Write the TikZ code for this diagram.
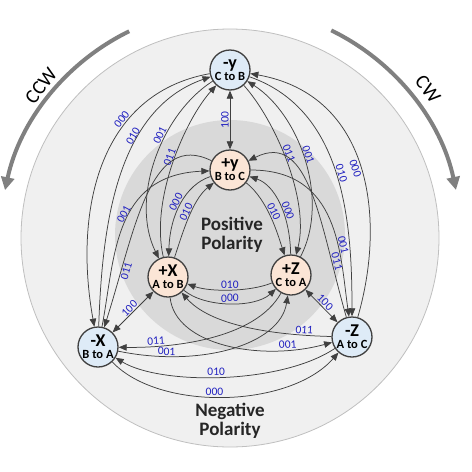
\documentclass[tikz,border=0pt]{standalone}
\usepackage{fontspec}
\setmainfont{Carlito}
\usetikzlibrary{arrows.meta}
\definecolor{negblue}{RGB}{222,235,247}
\definecolor{posorange}{RGB}{251,229,214}
\definecolor{edgegray}{RGB}{64,64,64}
\definecolor{codeblue}{RGB}{32,32,192}
\definecolor{ringgray}{RGB}{240,240,240}
\definecolor{coregray}{RGB}{217,217,217}
\definecolor{rimgray}{RGB}{191,191,191}
\definecolor{spingray}{RGB}{128,128,128}
\newcommand{\phasetext}[2]{\setlength{\lineskiplimit}{-100pt}{\fontsize{18}{12}\selectfont #1}\\#2}

\begin{document}
\begin{tikzpicture}[x=1pt, y=-1pt,
  negphase/.style={circle, draw=edgegray, line width=1.3pt, fill=negblue, minimum size=40pt,
    inner sep=0pt, align=center, font=\fontsize{12.5}{12}\selectfont\bfseries},
  posphase/.style={negphase, fill=posorange},
  trans/.style={draw=edgegray, line width=0.75pt, -{Triangle[length=8pt,width=6.5pt]}},
  swap100/.style={trans, {Triangle[length=8pt,width=6.5pt]}-{Triangle[length=8pt,width=6.5pt]}},
  codelbl/.style={font=\fontsize{11.5}{11.5}\selectfont, text=codeblue, sloped, inner sep=1pt},
  spin/.style={draw=spingray, line width=4pt, -{Triangle[length=13pt,width=13pt]}},
  polarity/.style={font=\fontsize{19}{19}\selectfont\bfseries, text=black!85, align=center}]
  \useasboundingbox (0,0) rectangle (472,472);

  % Polarity discs
  \filldraw[fill=ringgray, draw=rimgray, line width=0.8pt] (230,238) circle[radius=209];
  \fill[coregray] (230,235) circle[radius=115];

  % Rotation sense
  \draw[spin] ([shift={(-116:230)}]230,238) arc[start angle=-116, end angle=-168, radius=230];
  \draw[spin] ([shift={(-64:231)}]230,238) arc[start angle=-64, end angle=-12, radius=231];
  \node[rotate=52, font=\fontsize{20}{20}\selectfont] (ccw) at (41,86) {CCW};
  \node[rotate=-52, font=\fontsize{20}{20}\selectfont] (cw) at (428,89) {CW};

  % Phase states
  \node[negphase] (my) at (230,70) {\phasetext{-y}{C to B}};
  \node[posphase] (py) at (230,170) {\phasetext{+y}{B to C}};
  \node[posphase] (px) at (168,277) {\phasetext{+X}{A to B}};
  \node[posphase] (pz) at (291,275) {\phasetext{+Z}{C to A}};
  \node[negphase] (mx) at (98,347) {\phasetext{-X}{B to A}};
  \node[negphase] (mz) at (352,337) {\phasetext{-Z}{A to C}};

  \node[polarity] (pospol) at (232,235) {Positive\\Polarity};
  \node[polarity] (negpol) at (230,421) {Negative\\Polarity};

  % Polarity toggles
  \draw[swap100] (py) -- (my) node[codelbl, midway, above] {100};
  \draw[swap100] (mx) -- (px) node[codelbl, midway, above] {100};
  \draw[swap100] (pz) -- (mz) node[codelbl, midway, above] {100};

  % Left side
  \draw[trans] (my) .. controls (97,94) and (74,214) .. (mx) node[codelbl, pos=.33, above] {000};
  \draw[trans] (mx) .. controls (102,230) and (115,110) .. (my) node[codelbl, pos=.65, above] {010};
  \draw[trans] (my) .. controls (160,115) and (130,200) .. (px) node[codelbl, pos=.38, above] {001};
  \draw[trans] (px) .. controls (150,200) and (185,120) .. (my) node[codelbl, pos=.52, above] {011};
  \draw[trans] (mx) .. controls (115,260) and (112,175) .. (py) node[codelbl, pos=.55, above] {001};
  \draw[trans] (py) .. controls (150,130) and (135,230) .. (mx) node[codelbl, pos=.8, below] {011};
  \draw[trans] (py) .. controls (185,185) and (170,215) .. (px) node[codelbl, pos=.5, above] {000};
  \draw[trans] (px) .. controls (182,235) and (192,200) .. (py) node[codelbl, pos=.55, above] {010};

  % Right side
  \draw[trans] (mz) .. controls (386,220) and (372,95) .. (my) node[codelbl, pos=.5, below] {000};
  \draw[trans] (my) .. controls (345,110) and (352,225) .. (mz) node[codelbl, pos=.5, above] {010};
  \draw[trans] (pz) .. controls (330,200) and (300,115) .. (my) node[codelbl, pos=.52, above] {001};
  \draw[trans] (my) .. controls (275,120) and (310,200) .. (pz) node[codelbl, pos=.46, above] {011};
  \draw[trans] (py) .. controls (340,170) and (340,255) .. (mz) node[codelbl, pos=.64, above] {001};
  \draw[trans] (mz) .. controls (320,225) and (310,130) .. (py) node[codelbl, pos=.2, above] {011};
  \draw[trans] (pz) .. controls (290,215) and (275,185) .. (py) node[codelbl, pos=.4, above] {000};
  \draw[trans] (py) .. controls (268,200) and (278,235) .. (pz) node[codelbl, pos=.45, above] {010};

  % Bottom
  \draw[trans] (mz) .. controls (280,385) and (160,385) .. (mx) node[codelbl, pos=.52, above] {010};
  \draw[trans] (mx) .. controls (160,412) and (290,408) .. (mz) node[codelbl, pos=.46, above] {000};
  \draw[trans] (pz) .. controls (255,340) and (170,348) .. (mx) node[codelbl, pos=.78, above] {011};
  \draw[trans] (mx) .. controls (200,368) and (280,345) .. (pz) node[codelbl, pos=.2, above] {001};
  \draw[trans] (mz) .. controls (270,335) and (210,325) .. (px) node[codelbl, pos=.15, above] {011};
  \draw[trans] (px) .. controls (175,345) and (260,362) .. (mz) node[codelbl, pos=.8, above] {001};
  \draw[trans] (pz) .. controls (250,292) and (210,292) .. (px) node[codelbl, pos=.5, above] {010};
  \draw[trans] (px) .. controls (205,308) and (255,308) .. (pz) node[codelbl, pos=.5, above] {000};
\end{tikzpicture}
\end{document}
